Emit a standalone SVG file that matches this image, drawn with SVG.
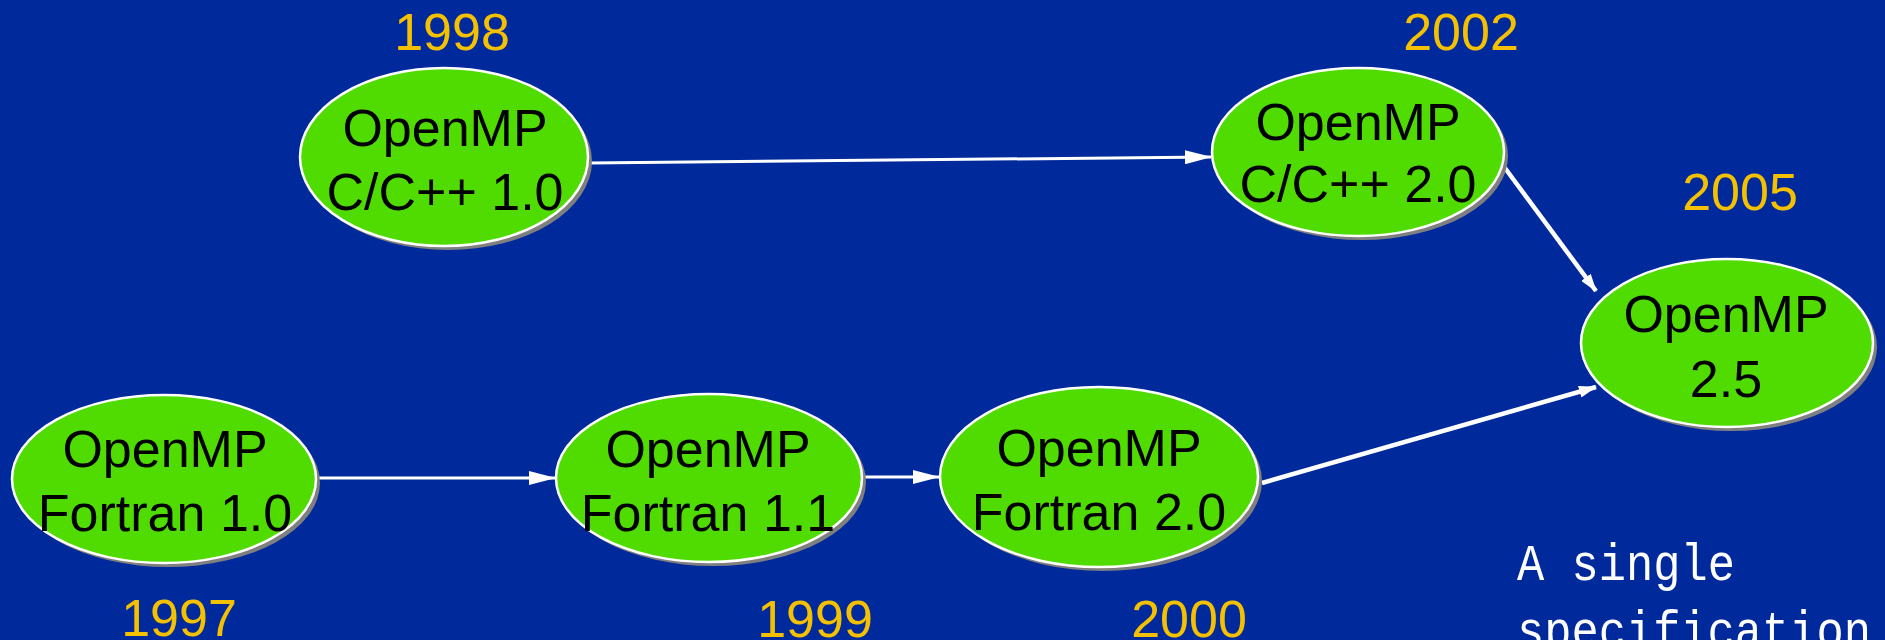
<svg xmlns="http://www.w3.org/2000/svg" width="1885" height="640" viewBox="0 0 1885 640">
  <style>
    .shadow { fill: #7f7f7f; }
    .node { fill: #50dc00; stroke: #ffffff; stroke-width: 2.5; }
    .label { font-family: "Liberation Sans", Arial, sans-serif; font-size: 52px; fill: #000000; text-anchor: middle; }
    .year { font-family: "Liberation Sans", Arial, sans-serif; font-size: 52px; fill: #f5c000; text-anchor: middle; }
    .note { font-family: "Liberation Mono", "DejaVu Sans Mono", monospace; font-size: 52px; fill: #ffffff; }
    .edge { stroke: #ffffff; fill: none; }
    .thin { stroke-width: 3; }
    .thick { stroke-width: 4.5; }
  </style>
  <defs>
    <marker id="arrowLg" markerUnits="userSpaceOnUse" markerWidth="27" markerHeight="14" refX="26" refY="7" orient="auto">
      <path d="M0,0 L27,7 L0,14 z" fill="#ffffff"/>
    </marker>
    <marker id="arrowSm" markerUnits="userSpaceOnUse" markerWidth="18" markerHeight="12" refX="17" refY="6" orient="auto">
      <path d="M0,0 L18,6 L0,12 z" fill="#ffffff"/>
    </marker>
  </defs>

  <rect x="0" y="0" width="1885" height="640" fill="#00299c"/>

  <!-- years -->
  <g id="years">
    <text class="year" x="452" y="50">1998</text>
    <text class="year" x="1461" y="50">2002</text>
    <text class="year" x="1740" y="210">2005</text>
    <text class="year" x="179" y="636">1997</text>
    <text class="year" x="815" y="637">1999</text>
    <text class="year" x="1189" y="637">2000</text>
  </g>

  <!-- connectors -->
  <g id="connectors">
    <line class="edge thin" x1="589" y1="163" x2="1211" y2="157" marker-end="url(#arrowLg)"/>
    <line class="edge thick" x1="1502" y1="164" x2="1596" y2="291" marker-end="url(#arrowSm)"/>
    <line class="edge thick" x1="1262" y1="483" x2="1596" y2="387" marker-end="url(#arrowSm)"/>
    <line class="edge thin" x1="317" y1="478" x2="555" y2="478" marker-end="url(#arrowLg)"/>
    <line class="edge thin" x1="862" y1="477" x2="939" y2="477" marker-end="url(#arrowLg)"/>
  </g>

  <!-- nodes -->
  <g id="node-cpp10">
    <ellipse class="shadow" cx="448" cy="161" rx="144" ry="89"/>
    <ellipse class="node" cx="444" cy="157" rx="144" ry="89"/>
    <text class="label" x="445" y="146">OpenMP</text>
    <text class="label" x="445" y="210">C/C++ 1.0</text>
  </g>

  <g id="node-cpp20">
    <ellipse class="shadow" cx="1362" cy="156" rx="146" ry="84"/>
    <ellipse class="node" cx="1358" cy="152" rx="146" ry="84"/>
    <text class="label" x="1358" y="140">OpenMP</text>
    <text class="label" x="1358" y="202">C/C++ 2.0</text>
  </g>

  <g id="node-omp25">
    <ellipse class="shadow" cx="1731" cy="347" rx="146" ry="84"/>
    <ellipse class="node" cx="1727" cy="343" rx="146" ry="84"/>
    <text class="label" x="1726" y="332">OpenMP</text>
    <text class="label" x="1726" y="397">2.5</text>
  </g>

  <g id="node-f10">
    <ellipse class="shadow" cx="168" cy="483" rx="152" ry="84"/>
    <ellipse class="node" cx="164" cy="479" rx="152" ry="84"/>
    <text class="label" x="165" y="467">OpenMP</text>
    <text class="label" x="165" y="531">Fortran 1.0</text>
  </g>

  <g id="node-f11">
    <ellipse class="shadow" cx="713" cy="482" rx="153" ry="84"/>
    <ellipse class="node" cx="709" cy="478" rx="153" ry="84"/>
    <text class="label" x="708" y="467">OpenMP</text>
    <text class="label" x="708" y="531">Fortran 1.1</text>
  </g>

  <g id="node-f20">
    <ellipse class="shadow" cx="1103" cy="481" rx="159" ry="90"/>
    <ellipse class="node" cx="1099" cy="477" rx="159" ry="90"/>
    <text class="label" x="1099" y="466">OpenMP</text>
    <text class="label" x="1099" y="530">Fortran 2.0</text>
  </g>

  <!-- caption -->
  <g id="caption">
    <text class="note" x="1517" y="580" textLength="218" lengthAdjust="spacingAndGlyphs">A single</text>
    <text class="note" x="1517" y="647" textLength="354" lengthAdjust="spacingAndGlyphs">specification</text>
  </g>
</svg>
